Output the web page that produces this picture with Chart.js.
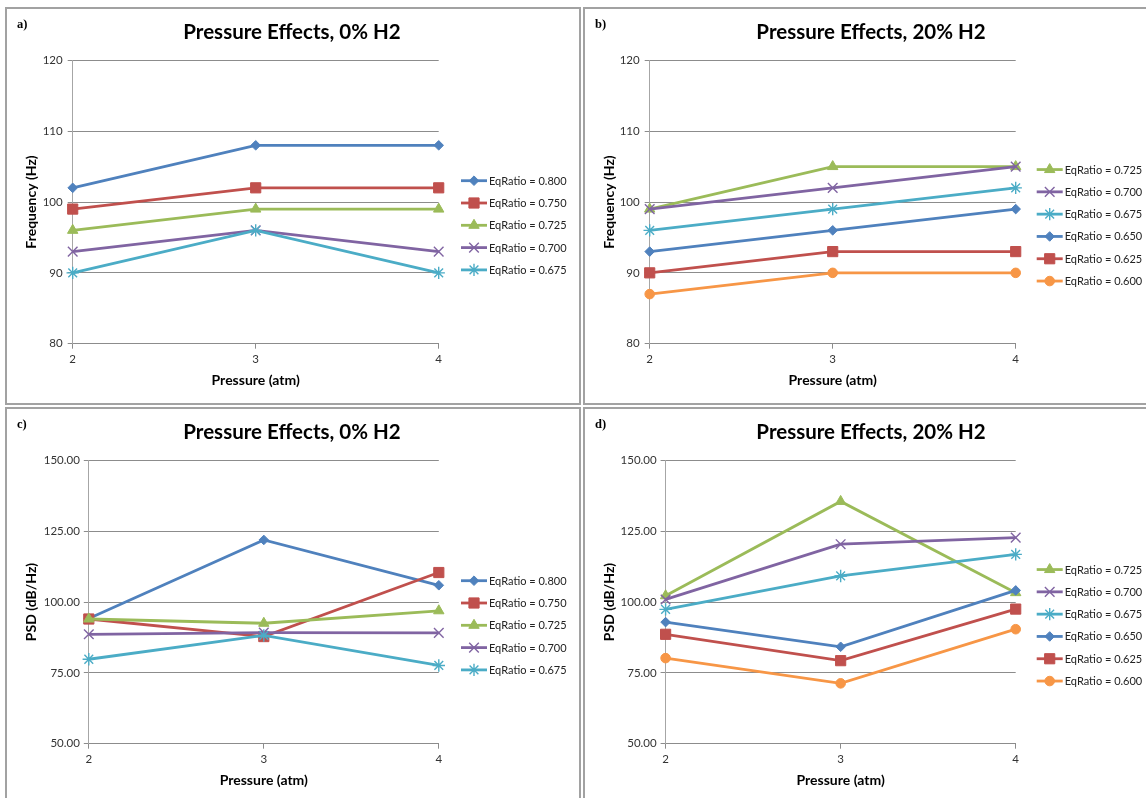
<!DOCTYPE html>
<html>
<head>
<meta charset="utf-8">
<script src="https://cdn.jsdelivr.net/npm/chart.js@4.4.1/dist/chart.umd.min.js"></script>
<style>
  html, body { margin: 0; padding: 0; background: #fff; width: 1146px; height: 798px; overflow: hidden; position: relative; }
  .frame { position: absolute; border: 2px solid #a2a2a2; box-sizing: border-box; }
  canvas { position: absolute; }
</style>
</head>
<body>
<div class="frame" style="left:5px;top:7px;width:576px;height:398px"></div>
<div class="frame" style="left:583px;top:7px;width:600px;height:398px"></div>
<div class="frame" style="left:5px;top:407px;width:576px;height:420px"></div>
<div class="frame" style="left:583px;top:407px;width:600px;height:420px"></div>
<canvas id="panelA" width="574" height="396" style="left:6px;top:8px"></canvas>
<canvas id="panelB" width="574" height="396" style="left:584px;top:8px"></canvas>
<canvas id="panelC" width="574" height="396" style="left:6px;top:408px"></canvas>
<canvas id="panelD" width="574" height="396" style="left:584px;top:408px"></canvas>
<script>
// Pressure levels on the x axis (atm)
const pressures = ['2', '3', '4'];

// Frequency tick range (Hz) and PSD tick range (dB/Hz)
const freqTicks = [80, 90, 100, 110, 120];
const psdTicks = [50, 75, 100, 125, 150];

// Frequency, 0% H2
const freqH0Names = ['EqRatio = 0.800', 'EqRatio = 0.750', 'EqRatio = 0.725', 'EqRatio = 0.700', 'EqRatio = 0.675'];
const freqH0_800 = [102, 108, 108];
const freqH0_750 = [99, 102, 102];
const freqH0_725 = [96, 99, 99];
const freqH0_700 = [93, 96, 93];
const freqH0_675 = [90, 96, 90];

// Frequency, 20% H2
const freqH20Names = ['EqRatio = 0.725', 'EqRatio = 0.700', 'EqRatio = 0.675', 'EqRatio = 0.650', 'EqRatio = 0.625', 'EqRatio = 0.600'];
const freqH20_725 = [99, 105, 105];
const freqH20_700 = [99, 102, 105];
const freqH20_675 = [96, 99, 102];
const freqH20_650 = [93, 96, 99];
const freqH20_625 = [90, 93, 93];
const freqH20_600 = [87, 90, 90];

// PSD, 0% H2
const psdH0Names = ['EqRatio = 0.800', 'EqRatio = 0.750', 'EqRatio = 0.725', 'EqRatio = 0.700', 'EqRatio = 0.675'];
const psdH0_800 = [94.2, 121.9, 105.9];
const psdH0_750 = [94.0, 87.8, 110.4];
const psdH0_725 = [94.0, 92.5, 96.9];
const psdH0_700 = [88.6, 89.2, 89.1];
const psdH0_675 = [79.8, 88.2, 77.6];

// PSD, 20% H2
const psdH20Names = ['EqRatio = 0.725', 'EqRatio = 0.700', 'EqRatio = 0.675', 'EqRatio = 0.650', 'EqRatio = 0.625', 'EqRatio = 0.600'];
const psdH20_725 = [102.2, 135.5, 103.3];
const psdH20_700 = [100.9, 120.4, 122.7];
const psdH20_675 = [97.4, 109.2, 116.8];
const psdH20_650 = [92.9, 84.2, 104.1];
const psdH20_625 = [88.6, 79.3, 97.5];
const psdH20_600 = [80.2, 71.3, 90.4];

// Marker and colour per equivalence ratio
const ratioStyle = {
  'EqRatio = 0.800': { color: '#4F81BD', shape: 'rectRot', radius: 4.8 },
  'EqRatio = 0.750': { color: '#C0504D', shape: 'rect', radius: 7.2 },
  'EqRatio = 0.725': { color: '#9BBB59', shape: 'triangle', radius: 6 },
  'EqRatio = 0.700': { color: '#8064A2', shape: 'crossRot', radius: 6.8 },
  'EqRatio = 0.675': { color: '#4BACC6', shape: 'star', radius: 6.2 },
  'EqRatio = 0.650': { color: '#4F81BD', shape: 'rectRot', radius: 4.8 },
  'EqRatio = 0.625': { color: '#C0504D', shape: 'rect', radius: 7.2 },
  'EqRatio = 0.600': { color: '#F79646', shape: 'circle', radius: 4.8 }
};

const LINE_W = 2.8;
const GRID = '#8c8c8c';
const FONT = 'Lato, "Open Sans", sans-serif';

function buildDatasets(names, seriesList) {
  const n = names.length;
  return names.map((name, i) => {
    const st = ratioStyle[name];
    const thin = st.shape === 'crossRot' || st.shape === 'star';
    return {
      label: name,
      data: seriesList[i],
      borderColor: st.color,
      backgroundColor: st.color,
      pointBackgroundColor: st.color,
      pointBorderColor: st.color,
      borderWidth: LINE_W,
      pointStyle: st.shape,
      pointRadius: st.radius,
      pointHoverRadius: st.radius,
      pointBorderWidth: thin ? 1.4 : 1,
      tension: 0,
      clip: false,
      order: n - i
    };
  });
}

// Draws the corner tag, the heading and the line+marker legend
const panelDecor = {
  id: 'panelDecor',
  afterDraw(chart, args, opts) {
    const ctx = chart.ctx;
    ctx.save();
    ctx.fillStyle = '#000';
    ctx.textBaseline = 'middle';
    ctx.textAlign = 'left';
    ctx.font = 'bold 12.5px "Liberation Serif", "Times New Roman", serif';
    ctx.fillText(opts.tag, 11, 17);

    ctx.textAlign = 'center';
    ctx.font = 'bold 20.5px ' + FONT;
    ctx.fillText(opts.title, opts.titleX, 24.5);

    const sets = chart.data.datasets;
    const step = 22.3;
    const y0 = 217.3 - (sets.length - 1) * step / 2;
    sets.forEach((ds, i) => {
      const y = y0 + i * step;
      ctx.strokeStyle = ds.borderColor;
      ctx.lineWidth = ds.borderWidth;
      ctx.beginPath();
      ctx.moveTo(opts.legendX, y);
      ctx.lineTo(opts.legendX + 26, y);
      ctx.stroke();
      ctx.fillStyle = ds.pointBackgroundColor;
      ctx.strokeStyle = ds.pointBorderColor;
      ctx.lineWidth = ds.pointBorderWidth;
      Chart.helpers.drawPoint(ctx, {
        pointStyle: ds.pointStyle, radius: ds.pointRadius,
        borderWidth: ds.pointBorderWidth, rotation: 0
      }, opts.legendX + 13, y);
      ctx.fillStyle = '#222';
      ctx.textAlign = 'left';
      ctx.font = '11px ' + FONT;
      ctx.fillText(ds.label, opts.legendX + 28, y + 0.5);
    });
    ctx.restore();
  }
};

function makePanel(id, p) {
  const W = 574, H = 396;
  const top = 52.3, bottom = 335.7;
  return new Chart(document.getElementById(id), {
    type: 'line',
    data: { labels: pressures, datasets: buildDatasets(p.names, p.series) },
    plugins: [panelDecor],
    options: {
      responsive: false,
      maintainAspectRatio: false,
      devicePixelRatio: 1,
      animation: false,
      events: [],
      layout: { padding: { left: 0, top: top, right: W - p.right, bottom: 0 } },
      plugins: {
        legend: { display: false },
        tooltip: { enabled: false },
        panelDecor: { tag: p.tag, title: p.title, titleX: p.titleX, legendX: p.legendX }
      },
      scales: {
        x: {
          type: 'category',
          offset: false,
          grid: { drawOnChartArea: false, drawTicks: true, tickLength: 5, color: GRID },
          border: { display: true, color: GRID, width: 1 },
          ticks: { padding: 4, color: '#333', font: { family: FONT, size: 11.5 }, maxRotation: 0, autoSkip: false },
          title: { display: true, text: 'Pressure (atm)', color: '#000',
                   font: { family: FONT, size: 14, weight: 'bold' }, padding: { top: 0, bottom: 15.6 } },
          afterFit(s) { s.height = H - bottom; }
        },
        y: {
          min: p.ticks[0],
          max: p.ticks[p.ticks.length - 1],
          afterBuildTicks(s) { s.ticks = p.ticks.map(v => ({ value: v })); },
          grid: { color: GRID, drawTicks: true, tickLength: 5 },
          border: { display: true, color: '#a6a6a6', width: 1 },
          ticks: {
            padding: p.tickPad, color: '#333', font: { family: FONT, size: 11.5 },
            callback: v => Number(v).toFixed(p.decimals)
          },
          title: { display: true, text: p.yTitle, color: '#000',
                   font: { family: FONT, size: 14, weight: 'bold' }, padding: { top: 16.6, bottom: 0 } },
          afterFit(s) { s.width = p.left; }
        }
      }
    }
  });
}

function build() {
  makePanel('panelA', {
    tag: 'a)', title: 'Pressure Effects, 0% H2', titleX: 286, legendX: 455,
    yTitle: 'Frequency (Hz)', ticks: freqTicks, decimals: 0, tickPad: 5,
    left: 66.7, right: 432.7,
    names: freqH0Names, series: [freqH0_800, freqH0_750, freqH0_725, freqH0_700, freqH0_675]
  });
  makePanel('panelB', {
    tag: 'b)', title: 'Pressure Effects, 20% H2', titleX: 287, legendX: 452.7,
    yTitle: 'Frequency (Hz)', ticks: freqTicks, decimals: 0, tickPad: 5,
    left: 65.7, right: 431.7,
    names: freqH20Names, series: [freqH20_725, freqH20_700, freqH20_675, freqH20_650, freqH20_625, freqH20_600]
  });
  makePanel('panelC', {
    tag: 'c)', title: 'Pressure Effects, 0% H2', titleX: 286, legendX: 455,
    yTitle: 'PSD (dB/Hz)', ticks: psdTicks, decimals: 2, tickPad: 4,
    left: 82.8, right: 432.8,
    names: psdH0Names, series: [psdH0_800, psdH0_750, psdH0_725, psdH0_700, psdH0_675]
  });
  makePanel('panelD', {
    tag: 'd)', title: 'Pressure Effects, 20% H2', titleX: 287, legendX: 452.7,
    yTitle: 'PSD (dB/Hz)', ticks: psdTicks, decimals: 2, tickPad: 4,
    left: 81.6, right: 431.7,
    names: psdH20Names, series: [psdH20_725, psdH20_700, psdH20_675, psdH20_650, psdH20_625, psdH20_600]
  });
}

if (document.fonts && document.fonts.load) {
  Promise.all([
    document.fonts.load('bold 20px Lato'),
    document.fonts.load('11px Lato'),
    document.fonts.load('bold 12px "Liberation Serif"')
  ]).then(build, build);
} else {
  build();
}
</script>
</body>
</html>
